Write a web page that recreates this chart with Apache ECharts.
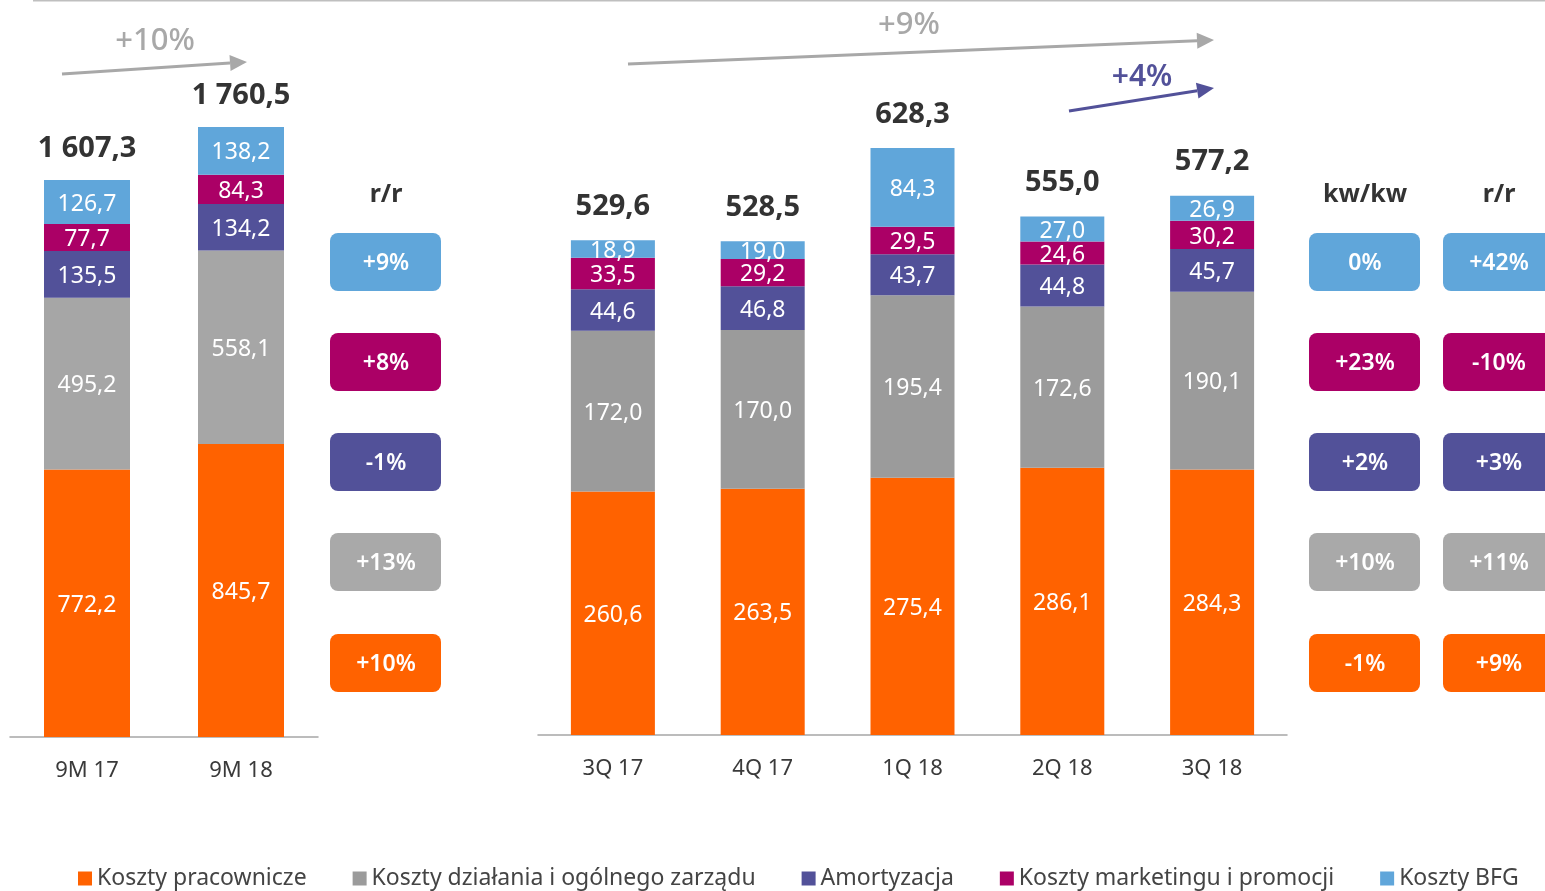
<!DOCTYPE html>
<html style="height: 100%">
<head>
<meta charset="utf-8">
<script type="text/javascript" src="https://cdn.jsdelivr.net/npm/echarts@6.0.0/dist/echarts.min.js"></script>
</head>
<body style="height: 100%; margin: 0; background: #fff">
<div id="container" style="width: 1545px; height: 891px"></div>
<script type="text/javascript">
// kategorie
var okresy9M = ['9M 17', '9M 18'];
var kwartaly = ['3Q 17', '4Q 17', '1Q 18', '2Q 18', '3Q 18'];

// 9M (lewy wykres)
var pracownicze9M = [772.2, 845.7];
var dzialania9M = [495.2, 558.1];
var amortyzacja9M = [135.5, 134.2];
var marketing9M = [77.7, 84.3];
var bfg9M = [126.7, 138.2];
var suma9M = [1607.3, 1760.5];

// kwartaly (prawy wykres)
var pracowniczeQ = [260.6, 263.5, 275.4, 286.1, 284.3];
var dzialaniaQ = [172.0, 170.0, 195.4, 172.6, 190.1];
var amortyzacjaQ = [44.6, 46.8, 43.7, 44.8, 45.7];
var marketingQ = [33.5, 29.2, 29.5, 24.6, 30.2];
var bfgQ = [18.9, 19.0, 84.3, 27.0, 26.9];
var sumaQ = [529.6, 528.5, 628.3, 555.0, 577.2];

// zmiany (od gory: BFG, marketing, amortyzacja, dzialania, pracownicze)
var rr9M = ['+9%', '+8%', '-1%', '+13%', '+10%'];
var kwkwQ = ['0%', '+23%', '+2%', '+10%', '-1%'];
var rrQ = ['+42%', '-10%', '+3%', '+11%', '+9%'];

var nazwy = ['Koszty pracownicze', 'Koszty działania i ogólnego zarządu', 'Amortyzacja',
             'Koszty marketingu i promocji', 'Koszty BFG'];
var kolory = ['#FF6200', '#9B9B9B', '#525199', '#AB0066', '#60A6DA'];
var kolory9M = ['#FF6200', '#A6A6A6', '#525199', '#AB0066', '#60A6DA'];
var badgeKolory = ['#60A6DA', '#AB0066', '#525199', '#A9A9A9', '#FF6200'];

var dane9M = [pracownicze9M, dzialania9M, amortyzacja9M, marketing9M, bfg9M];
var daneQ = [pracowniczeQ, dzialaniaQ, amortyzacjaQ, marketingQ, bfgQ];

function fmt(v) {
    var s = v.toFixed(1).split('.');
    var calk = s[0].replace(/\B(?=(\d{3})+(?!\d))/g, ' ');
    return calk + ',' + s[1];
}

var FONT = '"Noto Sans", "Open Sans", sans-serif';

var dom = document.getElementById('container');
var myChart = echarts.init(dom);

var etykieta = { show: true, position: 'inside', offset: [0, 2], color: '#fff', fontSize: 23, fontFamily: FONT,
                 formatter: function (p) { return fmt(p.value); } };

var series = [];
for (var i = 0; i < nazwy.length; i++) {
    series.push({
        name: nazwy[i], type: 'bar', stack: 'Q', xAxisIndex: 1, yAxisIndex: 1,
        barWidth: 84, data: daneQ[i],
        itemStyle: { color: kolory[i] },
        label: etykieta
    });
    series.push({
        name: nazwy[i], type: 'bar', stack: 'L', xAxisIndex: 0, yAxisIndex: 0,
        barWidth: 86, data: dane9M[i],
        itemStyle: { color: kolory9M[i] },
        label: etykieta
    });
}
// sumy nad slupkami
series.push({
    name: 'suma9M', type: 'bar', stack: 'L', xAxisIndex: 0, yAxisIndex: 0, barWidth: 86,
    data: suma9M.map(function () { return 0; }),
    label: { show: true, position: 'top', distance: 17, color: '#333', fontSize: 29, fontWeight: 'bold', fontFamily: FONT,
             formatter: function (p) { return fmt(suma9M[p.dataIndex]); } }
});
series.push({
    name: 'sumaQ', type: 'bar', stack: 'Q', xAxisIndex: 1, yAxisIndex: 1, barWidth: 84,
    data: sumaQ.map(function () { return 0; }),
    label: { show: true, position: 'top', distance: 19, color: '#333', fontSize: 29, fontWeight: 'bold', fontFamily: FONT,
             formatter: function (p) { return fmt(sumaQ[p.dataIndex]); } }
});

// graphic: badge, naglowki, strzalki
var graphic = [];
var badgeY = [262, 362, 462, 562, 663];
function kolumna(x, teksty, naglowek) {
    graphic.push({ type: 'text', x: x + 56, y: 195, style: { text: naglowek, fill: '#333', font: 'bold 25px ' + FONT,
                   textAlign: 'center', textVerticalAlign: 'middle' } });
    for (var k = 0; k < teksty.length; k++) {
        graphic.push({ type: 'rect', shape: { x: x, y: badgeY[k] - 29, width: 111, height: 58, r: 8 },
                       style: { fill: badgeKolory[k] } });
        graphic.push({ type: 'text', x: x + 56, y: badgeY[k] + 1, style: { text: teksty[k], fill: '#fff',
                       font: '600 23px ' + FONT, textAlign: 'center', textVerticalAlign: 'middle' } });
    }
}
kolumna(330, rr9M, 'r/r');
kolumna(1309, kwkwQ, 'kw/kw');
kolumna(1443, rrQ, 'r/r');

function strzalka(x1, y1, x2, y2, kolor) {
    var dx = x2 - x1, dy = y2 - y1, len = Math.sqrt(dx * dx + dy * dy);
    var ux = dx / len, uy = dy / len, h = 17, w = 8;
    var bx = x2 - ux * h, by = y2 - uy * h;
    graphic.push({ type: 'line', shape: { x1: x1, y1: y1, x2: bx, y2: by }, style: { stroke: kolor, lineWidth: 3 } });
    graphic.push({ type: 'polygon', shape: { points: [[x2, y2], [bx - uy * w, by + ux * w], [bx + uy * w, by - ux * w]] },
                   style: { fill: kolor } });
}
strzalka(62, 74, 247, 62, '#A8A8A8');
strzalka(628, 64, 1214, 40, '#A8A8A8');
strzalka(1069, 111, 1214, 88, '#525199');
graphic.push({ type: 'text', x: 155, y: 41, style: { text: '+10%', fill: '#A8A8A8', font: '500 31px ' + FONT, textAlign: 'center', textVerticalAlign: 'middle' } });
graphic.push({ type: 'text', x: 909, y: 25, style: { text: '+9%', fill: '#A8A8A8', font: '500 31px ' + FONT, textAlign: 'center', textVerticalAlign: 'middle' } });
graphic.push({ type: 'text', x: 1142, y: 77, style: { text: '+4%', fill: '#525199', font: '600 30px ' + FONT, textAlign: 'center', textVerticalAlign: 'middle' } });
graphic.push({ type: 'line', shape: { x1: 33, y1: 0.5, x2: 1545, y2: 0.5 }, style: { stroke: '#BFBFBF', lineWidth: 2 } });

var osX = {
    type: 'category', axisTick: { show: false },
    axisLine: { lineStyle: { color: '#A6A6A6', width: 1.5 } },
    axisLabel: { fontSize: 22, color: '#3a3a3a', margin: 23, fontFamily: FONT }
};

option = {
    animation: false,
    textStyle: { fontFamily: FONT },
    grid: [
        { left: 10, width: 308, top: 44, height: 693 },
        { left: 538, width: 749, top: 81, height: 654 }
    ],
    xAxis: [
        Object.assign({ gridIndex: 0, data: okresy9M }, osX),
        Object.assign({ gridIndex: 1, data: kwartaly }, osX)
    ],
    yAxis: [
        { gridIndex: 0, type: 'value', min: 0, max: 2000, show: false },
        { gridIndex: 1, type: 'value', min: 0, max: 700, show: false }
    ],
    legend: {
        data: nazwy, left: 73, top: 862, icon: 'rect', itemWidth: 14, itemHeight: 14, itemGap: 46,
        textStyle: { fontSize: 23, color: '#444', fontFamily: FONT }
    },
    graphic: graphic,
    series: series
};
myChart.setOption(option, true);
</script>
</body>
</html>
